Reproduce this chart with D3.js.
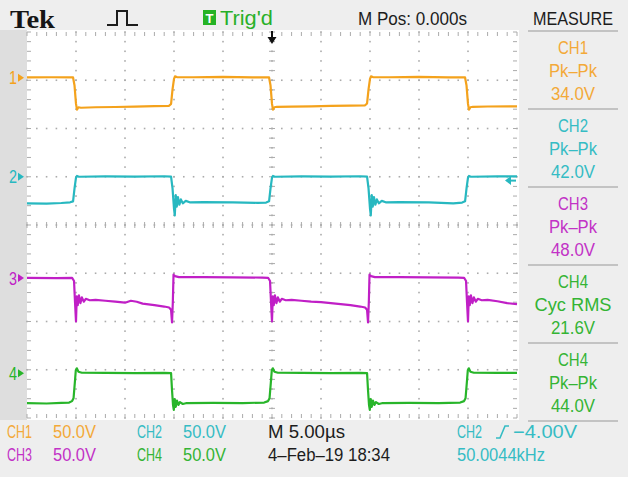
<!DOCTYPE html>
<html>
<head>
<meta charset="utf-8">
<script src="https://cdn.jsdelivr.net/npm/d3@7"></script>
<style>
  html, body { margin: 0; padding: 0; background: #eeeeee; }
  svg { display: block; }
</style>
</head>
<body>
<svg id="scope" width="628" height="477"></svg>
<script>
// ---- Channel settings ----
const channels = ["CH1", "CH2", "CH3", "CH4"];
const channelColors = ["#f4a21c", "#27b8c0", "#c01fc6", "#28b52a"];
const labelColors = ["#f3a938", "#35bcc4", "#c232c6", "#34b434"];
const voltsPerDiv = ["50.0V", "50.0V", "50.0V", "50.0V"];
const channelPositions = [3.05, 1.0, -1.1, -3.07]; // ground markers, in divisions

// ---- Acquired traces: [time µs, volts] ----
const ch1 = [
  [-25, 0.4], [-22.5, 0.6], [-20.3, 0.4], [-20.15, -8], [-20.0, -27], [-19.9, -33], [-19.75, -30.5], [-19.5, -31],
  [-18, -30.5], [-16, -30.2], [-14, -29.8], [-12, -29.3], [-10.5, -29], [-10.3, -27], [-10.15, -12], [-10.0, -1],
  [-9.9, 1.5], [-9.7, 0.8], [-8, 0.6], [-5, 0.9], [-2, 0.5], [-0.3, 0.4],
  [-0.15, -8], [0.0, -27], [0.1, -33], [0.25, -30.5], [0.5, -30], [2, -29.8], [4, -29.5], [6, -29], [8, -28.7],
  [9.5, -28.5], [9.7, -26.5], [9.85, -12], [10.0, -1], [10.1, 1.5], [10.3, 0.8], [12, 0.6], [15, 0.9], [18, 0.5], [19.7, 0.4],
  [19.85, -8], [20.0, -27], [20.1, -33], [20.25, -30.5], [20.5, -30], [22, -29.7], [25, -29.5]
];
const ch2 = [
  [-25, -27.5], [-23, -27.8], [-21.5, -27.2], [-20.6, -26.5], [-20.3, -25.5], [-20.15, -12], [-20.0, -1], [-19.9, 0.8],
  [-19.7, 0], [-17, 0.4], [-14, 0.2], [-11, 0.5], [-10.3, 0.2],
  [-10.15, -12], [-10.0, -33], [-9.92, -40], [-9.82, -19], [-9.72, -31], [-9.6, -21], [-9.45, -29], [-9.3, -23.5],
  [-9.1, -27.5], [-8.8, -25], [-8.4, -26.5], [-7, -26.2], [-4, -26.5], [-1.5, -27], [-0.6, -26.8], [-0.3, -25.5],
  [-0.15, -12], [0.0, -1], [0.1, 0.8], [0.3, 0], [3, 0.4], [6, 0.2], [9, 0.5], [9.7, 0.2],
  [9.85, -12], [10.0, -33], [10.08, -40], [10.18, -19], [10.28, -31], [10.4, -21], [10.55, -29], [10.7, -23.5],
  [10.9, -27.5], [11.2, -25], [11.6, -26.5], [13, -26.2], [16, -26.5], [18.5, -27.5], [19.4, -26.8], [19.7, -25.5],
  [19.85, -12], [20.0, -1], [20.1, 0.8], [20.3, 0], [23, 0.4], [25, 0.3]
];
const ch3 = [
  [-25, 0.2], [-22, 0], [-20.4, 0.3], [-20.2, -3], [-20.1, -25], [-20.0, -45], [-19.92, -19], [-19.82, -28],
  [-19.7, -18], [-19.55, -26], [-19.4, -20], [-19.2, -24.5], [-19, -21.5], [-18.6, -23], [-18, -22.5], [-17, -23.5],
  [-16, -24.5], [-15, -25.5], [-14.4, -23.5], [-13.8, -24.5], [-13.2, -26.5], [-12, -28], [-11, -29.5], [-10.5, -30.5],
  [-10.3, -33], [-10.2, -46], [-10.12, -25], [-10.05, 3.5], [-9.9, 2], [-9.5, 1], [-7, 1], [-4, 0.8], [-1, 0.5], [-0.4, 0.3],
  [-0.2, -3], [-0.1, -25], [0.0, -45], [0.08, -19], [0.18, -28], [0.3, -18], [0.45, -26], [0.6, -20], [0.8, -24.5],
  [1, -21.5], [1.4, -23], [2, -22.5], [3, -23.5], [4, -24.5], [5, -25], [6, -26], [7, -27], [8, -28], [9, -29.5],
  [9.5, -30.5], [9.7, -33], [9.8, -46], [9.88, -25], [9.95, 3.5], [10.1, 2], [10.5, 1], [13, 1], [16, 0.8], [19, 0.5], [19.6, 0.3],
  [19.8, -3], [19.9, -25], [20.0, -45], [20.08, -19], [20.18, -28], [20.3, -18], [20.45, -26], [20.6, -20], [20.8, -24.5],
  [21, -21.5], [21.4, -23], [22, -22.5], [23, -24], [24, -26], [25, -27]
];
const ch4 = [
  [-25, -31], [-23, -31.5], [-21.5, -30.8], [-20.7, -30.5], [-20.4, -29], [-20.25, -26], [-20.12, -10], [-20.02, 3],
  [-19.92, 5], [-19.75, 1.5], [-19.4, 0.4], [-17, 0.2], [-14, 0], [-11, 0.2], [-10.3, 0],
  [-10.2, -18], [-10.1, -33], [-10.02, -38], [-9.92, -27], [-9.82, -35], [-9.7, -28.5], [-9.55, -33], [-9.4, -30],
  [-9.1, -32], [-8.7, -31], [-6, -30.8], [-3, -31], [-0.8, -30.5], [-0.4, -29],
  [-0.25, -26], [-0.12, -10], [-0.02, 3], [0.08, 5], [0.25, 1.5], [0.6, 0.4], [3, 0.2], [6, 0], [9, 0.2], [9.7, 0],
  [9.8, -18], [9.9, -33], [9.98, -38], [10.08, -27], [10.18, -35], [10.3, -28.5], [10.45, -33], [10.6, -30],
  [10.9, -32], [11.3, -31], [14, -30.8], [17, -31], [19.2, -30.5], [19.6, -29],
  [19.75, -26], [19.88, -10], [19.98, 3], [20.08, 5], [20.25, 1.5], [20.6, 0.4], [23, 0.2], [25, 0.2]
];
const traces = [ch1, ch2, ch3, ch4];

// ---- Measurements ----
const measureSources = [0, 1, 2, 3, 3];
const measureTypes = ["Pk–Pk", "Pk–Pk", "Pk–Pk", "Cyc RMS", "Pk–Pk"];
const measureValues = ["34.0V", "42.0V", "48.0V", "21.6V", "44.0V"];

// ---- Status readouts ----
const horizontalScale = "M 5.00µs";
const horizontalPos = "M Pos: 0.000s";
const triggerSource = "CH2";
const triggerLevel = "−4.00V";
const triggerLevelVolts = -4;
const dateStamp = "4–Feb–19 18:34";
const frequency = "50.0044kHz";

// ---- Layout ----
const W = 628, H = 477;
const plot = { left: 27, right: 517, top: 32, bottom: 418 };
const svg = d3.select("#scope");
const SANS = "'Liberation Sans', Arial, sans-serif";

const x = d3.scaleLinear().domain([-25, 25]).range([plot.left, plot.right]);
const y = d3.scaleLinear().domain([-200, 200]).range([plot.bottom, plot.top]);

// frame
svg.append("rect").attr("width", W).attr("height", H).attr("fill", "#eeeeee");
svg.append("rect").attr("x", 0).attr("y", 30).attr("width", plot.left).attr("height", 390).attr("fill", "#dedede");
svg.append("rect").attr("x", plot.left).attr("y", 30).attr("width", plot.right - plot.left + 2)
  .attr("height", 390).attr("fill", "#ffffff");

// graticule
const grid = svg.append("g").attr("fill", "#ababab").attr("stroke", "#ababab");
const minorT = d3.range(-25, 25.001, 1);
const minorV = d3.range(-200, 200.001, 10);
const majorT = d3.range(-20, 20.001, 5);
const majorV = d3.range(-150, 150.001, 50);

majorT.forEach(t => {
  minorV.forEach(v => {
    grid.append("rect").attr("x", x(t) - 0.8).attr("y", y(v) - 0.8).attr("width", 1.6).attr("height", 1.6).attr("stroke", "none");
  });
});
majorV.forEach(v => {
  minorT.forEach(t => {
    grid.append("rect").attr("x", x(t) - 0.8).attr("y", y(v) - 0.8).attr("width", 1.6).attr("height", 1.6).attr("stroke", "none");
  });
});
// centre cross ticks
minorV.forEach(v => {
  grid.append("line").attr("x1", x(0) - 3).attr("x2", x(0) + 3).attr("y1", y(v)).attr("y2", y(v)).attr("stroke-width", 1);
});
minorT.forEach(t => {
  grid.append("line").attr("x1", x(t)).attr("x2", x(t)).attr("y1", y(0) - 3).attr("y2", y(0) + 3).attr("stroke-width", 1);
});
// edge ticks
minorV.forEach(v => {
  grid.append("line").attr("x1", plot.left).attr("x2", plot.left + 4).attr("y1", y(v)).attr("y2", y(v)).attr("stroke-width", 1);
  grid.append("line").attr("x1", plot.right - 4).attr("x2", plot.right).attr("y1", y(v)).attr("y2", y(v)).attr("stroke-width", 1);
});
minorT.forEach(t => {
  grid.append("line").attr("x1", x(t)).attr("x2", x(t)).attr("y1", plot.top).attr("y2", plot.top + 4).attr("stroke-width", 1);
  grid.append("line").attr("x1", x(t)).attr("x2", x(t)).attr("y1", plot.bottom - 4).attr("y2", plot.bottom).attr("stroke-width", 1);
});

// traces
traces.forEach((data, i) => {
  const off = channelPositions[i] * 50;
  const line = d3.line().x(d => x(d[0])).y(d => y(d[1] + off));
  svg.append("path").datum(data).attr("d", line)
    .attr("fill", "none").attr("stroke", channelColors[i])
    .attr("stroke-width", 2.2).attr("stroke-linejoin", "round");
});

// text helper
function txt(s, px, py, w, opt = {}) {
  const t = svg.append("text").attr("x", px).attr("y", py).text(s)
    .attr("font-family", opt.family || SANS)
    .attr("font-size", opt.size || 18)
    .attr("font-weight", opt.weight || "normal")
    .attr("fill", opt.color || "#1c1c1c")
    .attr("text-anchor", opt.anchor || "start");
  if (w) t.attr("textLength", w).attr("lengthAdjust", "spacingAndGlyphs");
  return t;
}

// ground markers on the left
channels.forEach((c, i) => {
  const gy = y(channelPositions[i] * 50);
  txt(String(i + 1), 9, gy + 6.5, 8, { size: 18, color: channelColors[i] });
  svg.append("path").attr("d", `M18,${gy - 4}L24,${gy}L18,${gy + 4}Z`).attr("fill", channelColors[i]);
});

// trigger position arrow (top) and level arrow (right)
svg.append("line").attr("x1", x(0)).attr("x2", x(0)).attr("y1", 31).attr("y2", 40)
  .attr("stroke", "#111").attr("stroke-width", 2);
svg.append("path").attr("d", `M${x(0) - 4.5},37L${x(0) + 4.5},37L${x(0)},44Z`).attr("fill", "#111");
const tl = y(triggerLevelVolts + channelPositions[1] * 50);
svg.append("path").attr("d", `M505,${tl}L511,${tl - 4.5}L511,${tl + 4.5}Z`).attr("fill", channelColors[1]);
svg.append("line").attr("x1", 510).attr("x2", 516).attr("y1", tl).attr("y2", tl)
  .attr("stroke", channelColors[1]).attr("stroke-width", 2);

// top bar
txt("Tek", 10, 28, 45, { family: "'Liberation Serif', 'Times New Roman', serif", size: 26, weight: "bold", color: "#151515" });
svg.append("path").attr("d", "M107,25H117V11H127V25H138").attr("fill", "none")
  .attr("stroke", "#1c1c1c").attr("stroke-width", 2);
svg.append("rect").attr("x", 203).attr("y", 10).attr("width", 13).attr("height", 15).attr("fill", "#25b325");
txt("T", 209.5, 22.5, null, { size: 13, weight: "bold", color: "#ffffff", anchor: "middle" });
txt("Trig'd", 220, 25, 53, { size: 20, color: "#28b028" });
txt(horizontalPos, 358, 25, 109, { size: 19 });
txt("MEASURE", 533, 25, 80, { size: 19 });

// measurement panel
const sepYs = [31, 109, 187, 265, 343, 421];
sepYs.forEach(sy => {
  svg.append("line").attr("x1", 528).attr("x2", 618).attr("y1", sy).attr("y2", sy)
    .attr("stroke", "#b4b4b4").attr("stroke-width", 1.5);
});
measureSources.forEach((src, k) => {
  const top = sepYs[k];
  const col = labelColors[src];
  txt(channels[src], 573, top + 23, 30, { color: col, anchor: "middle" });
  txt(measureTypes[k], 573, top + 46, measureTypes[k].length > 5 ? 77 : 48, { color: col, anchor: "middle" });
  txt(measureValues[k], 573, top + 69, 44, { color: col, anchor: "middle" });
});

// bottom readouts
const rows = [438, 461];
[[0, 1], [2, 3]].forEach((pair, r) => {
  pair.forEach((ci, j) => {
    const bx = j === 0 ? 7 : 137;
    txt(channels[ci], bx, rows[r], 25, { color: labelColors[ci] });
    txt(voltsPerDiv[ci], bx + 46, rows[r], 43, { color: labelColors[ci] });
  });
});
txt(horizontalScale, 268, rows[0], 77);
txt(dateStamp, 268, rows[1], 122);
txt(triggerSource, 457, rows[0], 25, { color: labelColors[1] });
svg.append("path").attr("d", `M496,${rows[0]}H500L505,${rows[0] - 12}H509`).attr("fill", "none")
  .attr("stroke", labelColors[1]).attr("stroke-width", 1.6);
txt(triggerLevel, 513, rows[0], 64, { color: labelColors[1] });
txt(frequency, 457, rows[1], 88, { color: labelColors[1] });
</script>
</body>
</html>
